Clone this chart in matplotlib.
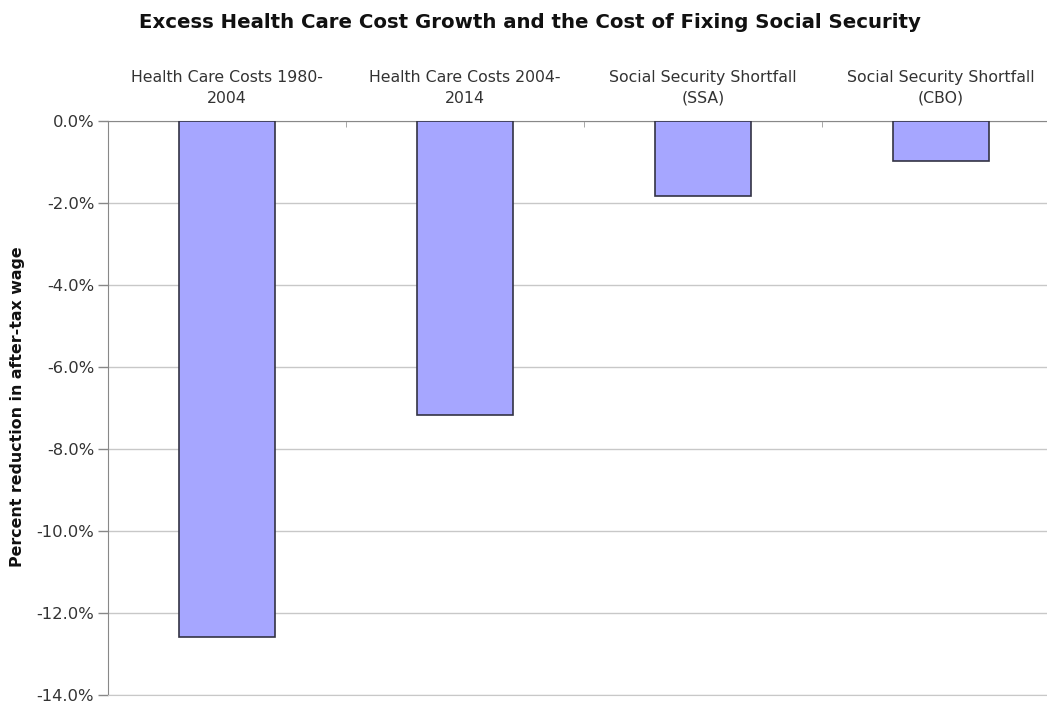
import matplotlib.pyplot as plt
from matplotlib.ticker import FixedLocator, FuncFormatter

categories = ["Health Care Costs 1980-\n2004", "Health Care Costs 2004-\n2014",
              "Social Security Shortfall\n(SSA)", "Social Security Shortfall\n(CBO)"]
values = [-12.58, -7.18, -1.83, -0.98]
yticks = [0, -2, -4, -6, -8, -10, -12, -14]

fig = plt.figure(figsize=(10.47, 7.04), dpi=100)
ax = fig.add_axes([0.1032, 0.0128, 0.9092, 0.8153])

ax.bar(range(len(values)), values, width=0.405, color="#a6a6ff",
       edgecolor="#333344", linewidth=1.2, zorder=3)

ax.set_xlim(-0.5, 3.5)
ax.set_ylim(-14, 0)
ax.set_yticks(yticks)
ax.yaxis.set_major_formatter(FuncFormatter(lambda v, p: "%.1f%%" % v))
ax.grid(axis="y", color="#c8c8c8", linewidth=1, zorder=0)

ax.xaxis.tick_top()
ax.set_xticks(range(len(categories)))
ax.set_xticklabels(categories, fontsize=11.3, color="#333333", linespacing=1.5)
ax.tick_params(axis="x", which="major", length=0, pad=11)
ax.xaxis.set_minor_locator(FixedLocator([0.5, 1.5, 2.5]))
ax.tick_params(axis="x", which="minor", direction="in", length=4, color="#999999")
ax.tick_params(axis="y", labelsize=11.8, colors="#333333", length=7, width=1, pad=3)
ax.tick_params(axis="y", color="#888888")

ax.spines["right"].set_visible(False)
ax.spines["bottom"].set_color("#c8c8c8")
ax.spines["left"].set_color("#888888")
ax.spines["top"].set_color("#888888")

fig.text(0.017, 0.423, "Percent reduction in after-tax wage", rotation=90,
         fontsize=11.4, fontweight="bold", ha="center", va="center", color="#111111")
fig.text(0.506, 0.968, "Excess Health Care Cost Growth and the Cost of Fixing Social Security",
         fontsize=14.2, fontweight="bold", ha="center", va="center", color="#111111")

fig.savefig("out.png", dpi=100)
